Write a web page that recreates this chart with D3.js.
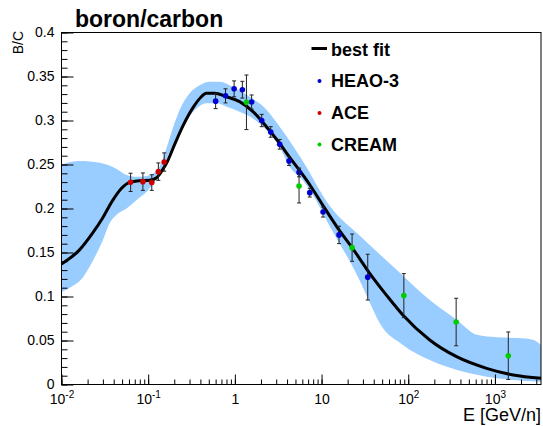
<!DOCTYPE html>
<html><head><meta charset="utf-8">
<script src="https://cdn.jsdelivr.net/npm/d3@7"></script>
<style>
body{margin:0;background:#fff}
svg{display:block}
text{font-family:"Liberation Sans",Arial,Helvetica,sans-serif;fill:#000}
</style>
</head><body>
<svg id="c" width="543" height="426"></svg>
<script>
// ---- data ----
const fitE  = [0.0100,0.01614,0.0228,0.0297,0.0388,0.0493,0.0610,0.0796,0.1038,0.125,0.1467,0.1675,0.1964,0.2494,0.326,0.410,0.469,0.585,0.798,1.135,1.617,2.31,3.29,4.29,5.60,7.31,10.3,16.2,22.9,36.1,56.6,86.7,177,361,802,1626,3400];
const fitBC = [0.137,0.153,0.172,0.189,0.209,0.223,0.2297,0.2315,0.232,0.235,0.244,0.254,0.270,0.293,0.314,0.327,0.331,0.331,0.327,0.3214,0.310,0.293,0.274,0.258,0.243,0.227,0.204,0.1745,0.1545,0.126,0.101,0.079,0.0506,0.0316,0.0184,0.0108,0.007];

const bandUpE = [0.0100,0.01614,0.0275,0.0432,0.0563,0.0735,0.0959,0.1187,0.1355,0.1546,0.1862,0.2305,0.301,0.392,0.512,0.668,0.943,1.482,2.33,3.29,6.07,12.4,29.9,73.9,177,364,620,1055,2105,2746,3400];
const bandUp  = [0.250,0.254,0.252,0.245,0.238,0.236,0.237,0.241,0.2475,0.262,0.287,0.312,0.331,0.340,0.344,0.344,0.338,0.327,0.312,0.293,0.254,0.203,0.166,0.130,0.096,0.0733,0.0565,0.0537,0.0525,0.0508,0.045];
const bandLoE = [0.0100,0.01303,0.01745,0.0228,0.0297,0.0358,0.0432,0.0563,0.0735,0.0959,0.1187,0.1429,0.1675,0.213,0.2775,0.362,0.472,0.616,0.804,1.135,1.606,2.33,3.29,4.29,6.07,8.81,12.4,16.2,21.2,27.6,36.1,47.0,86.7,177,364,807,1611,3400];
const bandLo  = [0.105,0.111,0.121,0.140,0.163,0.183,0.193,0.200,0.2097,0.219,0.230,0.2437,0.259,0.2816,0.3006,0.314,0.3195,0.3195,0.3157,0.310,0.3025,0.289,0.270,0.2475,0.2324,0.208,0.180,0.160,0.140,0.118,0.093,0.0695,0.045,0.0278,0.0165,0.0089,0.005,0.003];

const heaoE   = [0.60,0.78,0.98,1.22,1.56,2.04,2.59,3.29,4.21,5.50,7.31,10.4,15.9,34.1];
const heaoBC  = [0.322,0.328,0.336,0.335,0.321,0.300,0.287,0.273,0.254,0.241,0.218,0.196,0.170,0.122];
const heaoErr = [0.0085,0.008,0.009,0.0095,0.008,0.007,0.006,0.0055,0.005,0.005,0.005,0.0057,0.0099,0.026];

const aceE   = [0.0627,0.0869,0.110,0.131,0.153];
const aceBC  = [0.2297,0.2305,0.2295,0.2419,0.2528];
const aceErr = [0.0104,0.0099,0.0089,0.0099,0.0104];

const creamE   = [1.36,5.50,22.5,89,357,1426];
const creamBC  = [0.3207,0.2256,0.1555,0.101,0.071,0.0327];
const creamErr = [0.031,0.0193,0.0155,0.025,0.027,0.027];

const xTicks      = [0.01,0.1,1,10,100,1000];
const xTickBase   = ["10","10","1","10","10","10"];
const xTickExp    = ["-2","-1","","","2","3"];
const yTicks      = [0,0.05,0.1,0.15,0.2,0.25,0.3,0.35,0.4];
const yTickLabels = ["0","0.05","0.1","0.15","0.2","0.25","0.3","0.35","0.4"];
const legendLabels = ["best fit","HEAO-3","ACE","CREAM"];
const seriesColors = ["#000000","#0000cc","#cc0000","#00cc00"];

// ---- layout ----
const L = 61.5, R = 541, T = 32.5, B = 384.5;
const svg = d3.select("#c");
svg.append("rect").attr("width",543).attr("height",426).attr("fill","#fff");

const x = d3.scaleLog().domain([0.01, 3400]).range([L, R]);
const y = d3.scaleLinear().domain([0, 0.4]).range([B, T]);

// band
const lineGen = d3.line().x(d => x(d[0])).y(d => y(d[1])).curve(d3.curveMonotoneX);
const upPts = bandUpE.map((e,i)=>[e,bandUp[i]]);
const loPts = bandLoE.map((e,i)=>[e,bandLo[i]]).reverse();
const upPath = lineGen(upPts);
const loPath = lineGen(loPts);
svg.append("path")
  .attr("d", upPath + "L" + loPath.slice(1) + "Z")
  .attr("fill","#99ccff").attr("stroke","none");

// curve
svg.append("path")
  .attr("d", lineGen(fitE.map((e,i)=>[e,fitBC[i]])))
  .attr("fill","none").attr("stroke","#000").attr("stroke-width",3);

// frame
svg.append("rect").attr("x",L).attr("y",T).attr("width",R-L).attr("height",B-T)
  .attr("fill","none").attr("stroke","#000").attr("stroke-width",1);

// axes: x
const xMinor = [];
for (let p=-2; p<=3; p++) for (let m=1; m<=9; m++) { const v = m*Math.pow(10,p); if (v>=0.01 && v<=3400) xMinor.push(v); }
svg.append("g").attr("transform",`translate(0,${B})`)
  .call(d3.axisBottom(x).tickValues(xMinor).tickSize(-5).tickSizeOuter(0).tickFormat(""))
  .call(g=>g.select(".domain").remove());
const xg = svg.append("g").attr("transform",`translate(0,${B})`)
  .call(d3.axisBottom(x).tickValues(xTicks).tickSize(-10).tickSizeOuter(0).tickPadding(10).tickFormat(""))
  .call(g=>g.select(".domain").remove());
xg.selectAll(".tick text").each(function(d,i){
  const t = d3.select(this).attr("font-size",14).attr("font-family",null).attr("fill","#000");
  t.text(null);
  t.append("tspan").text(xTickBase[i]);
  if (xTickExp[i]) t.append("tspan").attr("font-size",10).attr("dy","-6").text(xTickExp[i]);
});
xg.selectAll(".tick line").attr("stroke","#000");

// axes: y
const yMinor = d3.range(0, 0.4001, 0.01);
svg.append("g").attr("transform",`translate(${L},0)`)
  .call(d3.axisLeft(y).tickValues(yMinor).tickSize(-6).tickSizeOuter(0).tickFormat(""))
  .call(g=>g.select(".domain").remove());
const yg = svg.append("g").attr("transform",`translate(${L},0)`)
  .call(d3.axisLeft(y).tickValues(yTicks).tickSize(-12).tickSizeOuter(0).tickPadding(7)
        .tickFormat((d,i)=>yTickLabels[i]))
  .call(g=>g.select(".domain").remove());
yg.selectAll(".tick text").attr("font-size",14).attr("font-family",null).attr("fill","#000");

// error bars + points
function drawSeries(E, V, Er, color) {
  const g = svg.append("g");
  E.forEach((e,i)=>{
    const cx = x(e), y0 = y(V[i]-Er[i]), y1 = y(V[i]+Er[i]);
    g.append("line").attr("x1",cx).attr("x2",cx).attr("y1",y0).attr("y2",y1).attr("stroke","#222").attr("stroke-width",1);
    g.append("line").attr("x1",cx-2).attr("x2",cx+2).attr("y1",y0).attr("y2",y0).attr("stroke","#222").attr("stroke-width",1);
    g.append("line").attr("x1",cx-2).attr("x2",cx+2).attr("y1",y1).attr("y2",y1).attr("stroke","#222").attr("stroke-width",1);
  });
  E.forEach((e,i)=>{
    g.append("circle").attr("cx",x(e)).attr("cy",y(V[i])).attr("r",2.8).attr("fill",color);
  });
}
drawSeries(aceE, aceBC, aceErr, seriesColors[2]);
drawSeries(heaoE, heaoBC, heaoErr, seriesColors[1]);
drawSeries(creamE, creamBC, creamErr, seriesColors[3]);

// legend
const lg = svg.append("g");
const lBase = [56, 87, 119, 150.5];
lg.append("line").attr("x1",311.5).attr("x2",327).attr("y1",48.5).attr("y2",48.5).attr("stroke","#000").attr("stroke-width",3);
[1,2,3].forEach(k=>{
  lg.append("circle").attr("cx",319.5).attr("cy",lBase[k]-6).attr("r",2).attr("fill",seriesColors[k]);
});
legendLabels.forEach((s,k)=>{
  lg.append("text").attr("x",331).attr("y",lBase[k]).attr("font-size",18).attr("font-weight","bold").text(s);
});

// titles
svg.append("text").attr("x",75).attr("y",26.5).attr("font-size",23).attr("font-weight","bold").text("boron/carbon");
svg.append("text").attr("transform","translate(23,31) rotate(-90)").attr("text-anchor","end").attr("font-size",14).text("B/C");
svg.append("text").attr("x",541).attr("y",421).attr("text-anchor","end").attr("font-size",18).text("E [GeV/n]");
</script>
</body></html>
